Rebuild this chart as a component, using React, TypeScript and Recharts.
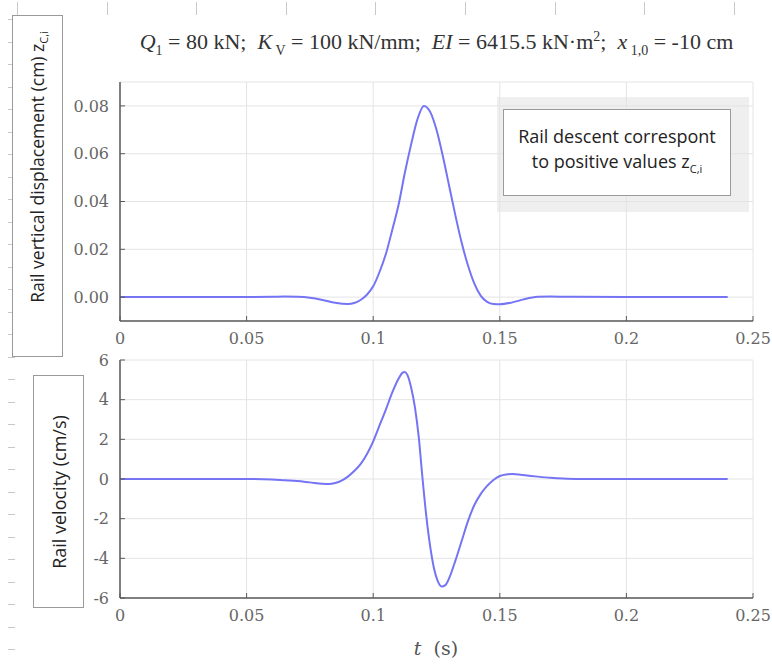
import React from 'react';
import { LineChart, Line, XAxis, YAxis, CartesianGrid } from 'recharts';

// rail displacement z_C,i (cm)
const dispTime = [
  0, 0.02, 0.04, 0.05, 0.06, 0.065, 0.07, 0.075, 0.08, 0.085, 0.09, 0.0925, 0.095, 0.0975,
  0.1, 0.1025, 0.105, 0.1075, 0.11, 0.1125, 0.115, 0.1175, 0.12, 0.1225, 0.125, 0.1275,
  0.13, 0.1325, 0.135, 0.1375, 0.14, 0.1425, 0.145, 0.1475, 0.15, 0.155, 0.16, 0.165,
  0.17, 0.18, 0.2, 0.22, 0.24,
];
const dispValues = [
  0, 0, 0, 0, 0.0001, 0.0002, 0.0001, -0.0003, -0.0012, -0.0024, -0.0029, -0.0025, -0.0012, 0.001,
  0.0045, 0.0105, 0.018, 0.028, 0.0385, 0.052, 0.064, 0.0745, 0.08, 0.0775, 0.07, 0.059,
  0.0465, 0.034, 0.0225, 0.013, 0.0055, 0.0005, -0.002, -0.0029, -0.003, -0.0022, -0.0008, 0.0001,
  0.0003, 0.0001, 0, 0, 0,
];

// rail velocity (cm/s)
const velTime = [
  0, 0.02, 0.04, 0.05, 0.06, 0.065, 0.07, 0.075, 0.08, 0.0825, 0.085, 0.0875, 0.09, 0.0925,
  0.095, 0.0975, 0.1, 0.1025, 0.105, 0.1075, 0.11, 0.1115, 0.1125, 0.1135, 0.115, 0.1165,
  0.118, 0.1195, 0.121, 0.1225, 0.124, 0.1255, 0.127, 0.1285, 0.13, 0.1325, 0.135, 0.1375,
  0.14, 0.1425, 0.145, 0.1475, 0.15, 0.1525, 0.155, 0.1575, 0.16, 0.165, 0.17, 0.175, 0.18,
  0.2, 0.22, 0.24,
];
const velValues = [
  0, 0, 0, 0, -0.02, -0.06, -0.1, -0.17, -0.24, -0.25, -0.2, -0.08, 0.12, 0.4,
  0.75, 1.25, 1.9, 2.7, 3.5, 4.35, 5.05, 5.35, 5.4, 5.25, 4.6, 3.6,
  2.1, 0, -1.9, -3.4, -4.5, -5.15, -5.42, -5.35, -5.0, -4.1, -3.1, -2.1,
  -1.3, -0.75, -0.35, -0.05, 0.15, 0.23, 0.25, 0.23, 0.19, 0.12, 0.06, 0.02, 0,
  0, 0, 0,
];

const timeTicks = [0, 0.05, 0.1, 0.15, 0.2, 0.25];
const timeTickLabels = ['0', '0.05', '0.1', '0.15', '0.2', '0.25'];
const dispTicks = [0, 0.02, 0.04, 0.06, 0.08];
const dispTickLabels = ['0.00', '0.02', '0.04', '0.06', '0.08'];
const velTicks = [-6, -4, -2, 0, 2, 4, 6];
const velTickLabels = ['-6', '-4', '-2', '0', '2', '4', '6'];

const dispData = dispTime.map((t, i) => ({ t, z: dispValues[i] }));
const velData = velTime.map((t, i) => ({ t, v: velValues[i] }));

const tickFont = { fontFamily: '"DejaVu Serif", serif', fontSize: 16, fill: '#666' };
const boxColor = '#5a5a5a';
const lineColor = '#7474f4';

function labelOf(list: number[], names: string[]) {
  return (v: number) => {
    const i = list.findIndex((x) => Math.abs(x - v) < 1e-9);
    return i >= 0 ? names[i] : '';
  };
}

function Panel({ data, dataKey, yDomain, yTicks, yLabels, height, top, margin }: any) {
  return (
    <div style={{ position: 'absolute', left: 0, top }}>
      <LineChart width={772} height={height} data={data} margin={margin}>
        <CartesianGrid stroke="#e4e4e4" strokeWidth={1} />
        <XAxis
          dataKey="t"
          type="number"
          domain={[0, 0.25]}
          ticks={timeTicks}
          allowDataOverflow
          height={30}
          tickFormatter={labelOf(timeTicks, timeTickLabels)}
          tick={tickFont}
          tickSize={-5}
          tickMargin={17}
          axisLine={{ stroke: boxColor, strokeWidth: 1.5 }}
          tickLine={{ stroke: boxColor }}
        />
        <XAxis
          xAxisId="top"
          dataKey="t"
          orientation="top"
          type="number"
          domain={[0, 0.25]}
          ticks={timeTicks}
          allowDataOverflow
          height={0}
          tick={false}
          axisLine={{ stroke: boxColor, strokeWidth: 1.5 }}
        />
        <YAxis
          type="number"
          domain={yDomain}
          ticks={yTicks}
          allowDataOverflow
          width={50}
          tickFormatter={labelOf(yTicks, yLabels)}
          tick={tickFont}
          tickSize={-5}
          tickMargin={16}
          axisLine={{ stroke: boxColor, strokeWidth: 1.5 }}
          tickLine={{ stroke: boxColor }}
        />
        <YAxis
          yAxisId="right"
          orientation="right"
          type="number"
          domain={yDomain}
          ticks={yTicks}
          allowDataOverflow
          width={0}
          tick={false}
          axisLine={{ stroke: boxColor, strokeWidth: 1.5 }}
        />
        {/* invisible twin so the top and right box edges get drawn */}
        <Line
          xAxisId="top"
          yAxisId="right"
          dataKey={dataKey}
          stroke="none"
          dot={false}
          activeDot={false}
          isAnimationActive={false}
        />
        <Line
          type="monotone"
          dataKey={dataKey}
          stroke={lineColor}
          strokeWidth={2}
          dot={false}
          isAnimationActive={false}
        />
      </LineChart>
    </div>
  );
}

const sans = '"Open Sans", "Liberation Sans", sans-serif';

export default function App() {
  const rulerLeft = Array.from({ length: 29 }, (_, k) => 19 + k * 22.5);
  const rulerTop = Array.from({ length: 9 }, (_, k) => 17 + k * 89.6);

  return (
    <div
      style={{
        position: 'absolute',
        left: 0,
        top: 0,
        width: 772,
        height: 664,
        background: '#fff',
        overflow: 'hidden',
      }}
    >
      {/* page ruler marks along the edges */}
      {rulerLeft.map((y) => (
        <div key={'l' + y} style={{ position: 'absolute', left: 8, top: y, width: 7, height: 1, background: '#c8c8c8' }} />
      ))}
      {rulerTop.map((x) => (
        <div key={'t' + x} style={{ position: 'absolute', left: x, top: 2, width: 1, height: 13, background: '#c8c8c8' }} />
      ))}

      {/* grey shadow behind the note */}
      <div style={{ position: 'absolute', left: 497, top: 97, width: 252, height: 115, background: '#efefef' }} />

      <Panel
        data={dispData}
        dataKey="z"
        yDomain={[-0.01, 0.09]}
        yTicks={dispTicks}
        yLabels={dispTickLabels}
        height={360}
        top={0}
        margin={{ top: 82, right: 19, bottom: 9, left: 70 }}
      />
      <Panel
        data={velData}
        dataKey="v"
        yDomain={[-6, 6]}
        yTicks={velTicks}
        yLabels={velTickLabels}
        height={324}
        top={340}
        margin={{ top: 20, right: 19, bottom: 36, left: 70 }}
      />

      {/* title */}
      <div
        style={{
          position: 'absolute',
          left: 120,
          width: 633,
          top: 29,
          textAlign: 'center',
          fontFamily: '"Liberation Serif", serif',
          fontSize: 22,
          color: '#333',
          whiteSpace: 'nowrap',
        }}
      >
        <i>Q</i>
        <sub style={{ fontSize: 14 }}>1</sub> = 80 kN;&nbsp; <i>K</i>
        <sub style={{ fontSize: 14 }}> V</sub> = 100 kN/mm;&nbsp; <i>EI</i> = 6415.5 kN·m
        <sup style={{ fontSize: 14 }}>2</sup>;&nbsp; <i>x</i>
        <sub style={{ fontSize: 14 }}> 1,0</sub> = -10 cm
      </div>

      {/* note box */}
      <div
        style={{
          position: 'absolute',
          left: 503,
          top: 109,
          width: 228,
          height: 87,
          border: '1px solid #9a9a9a',
          background: '#fff',
          boxSizing: 'border-box',
          display: 'flex',
          flexDirection: 'column',
          justifyContent: 'center',
          alignItems: 'center',
          fontFamily: sans,
          fontSize: 18,
          lineHeight: '25px',
          color: '#222',
        }}
      >
        <div>Rail descent correspont</div>
        <div>
          to positive values z<sub style={{ fontSize: 11 }}>C,i</sub>
        </div>
      </div>

      {/* y label boxes */}
      <div
        style={{
          position: 'absolute',
          left: 12,
          top: 15,
          width: 51,
          height: 342,
          border: '1px solid #9a9a9a',
          background: '#fff',
          boxSizing: 'border-box',
        }}
      />
      <div
        style={{
          position: 'absolute',
          left: 38,
          top: 167,
          transform: 'translate(-50%, -50%) rotate(-90deg)',
          whiteSpace: 'nowrap',
          fontFamily: sans,
          fontSize: 17.5,
          color: '#222',
        }}
      >
        Rail vertical displacement (cm) z<sub style={{ fontSize: 11 }}>C,i</sub>
      </div>

      <div
        style={{
          position: 'absolute',
          left: 33,
          top: 375,
          width: 51,
          height: 233,
          border: '1px solid #9a9a9a',
          background: '#fff',
          boxSizing: 'border-box',
        }}
      />
      <div
        style={{
          position: 'absolute',
          left: 59,
          top: 492,
          transform: 'translate(-50%, -50%) rotate(-90deg)',
          whiteSpace: 'nowrap',
          fontFamily: sans,
          fontSize: 18,
          color: '#222',
        }}
      >
        Rail velocity (cm/s)
      </div>

      {/* x label */}
      <div
        style={{
          position: 'absolute',
          left: 436,
          top: 648,
          transform: 'translate(-50%, -50%)',
          fontFamily: '"DejaVu Serif", serif',
          fontSize: 19,
          color: '#555',
          whiteSpace: 'nowrap',
        }}
      >
        <i>t</i>&nbsp; (s)
      </div>
    </div>
  );
}
